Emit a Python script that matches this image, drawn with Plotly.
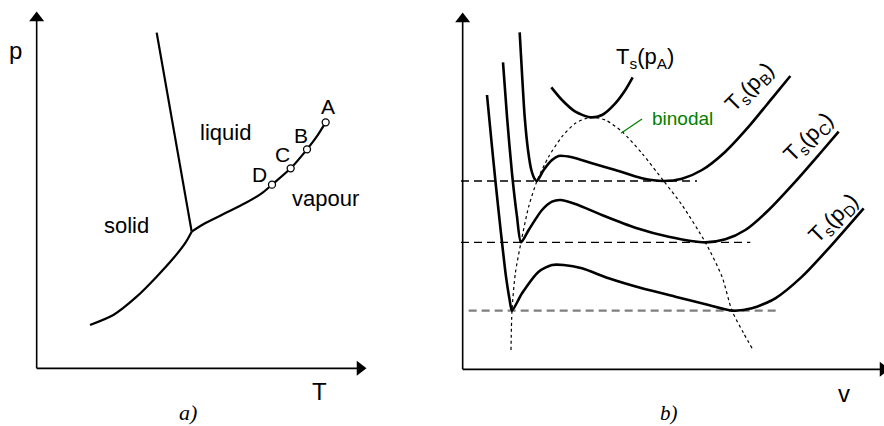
import plotly.graph_objects as go

# ---------------- panel a) : p-T phase diagram (arbitrary units) ----------------
melt_T = [360, 465]
melt_p = [1007, 410]

subl_T = [160, 230, 300, 360, 410, 447, 465]
subl_p = [130, 160, 215, 275, 330, 378, 410]

vap_T = [465, 505, 565, 625, 675, 705, 762, 811, 840, 867]
vap_p = [410, 435, 465, 495, 525, 550, 600, 657, 695, 738]

state_names = ["A", "B", "C", "D"]
state_T = [867, 811, 762, 706]
state_p = [738, 657, 600, 551]

# ---------------- panel b) : g-v isotherms (arbitrary units) ----------------
iso_A_v = [266, 298, 338, 383, 418, 458, 488, 510]
iso_A_g = [846, 808, 773, 756, 763, 798, 838, 876]

iso_B_v = [171, 178, 186, 196, 206, 216, 223, 243, 268, 288, 328, 388, 458, 538, 603,
           658, 718, 788, 858, 928, 983]
iso_B_g = [1011, 888, 758, 658, 598, 571, 565, 598, 628, 640, 636, 618, 598, 573, 565,
           572, 598, 653, 728, 813, 880]

iso_C_v = [121, 133, 148, 163, 175, 198, 238, 268, 293, 338, 418, 518, 618, 728, 788,
           848, 918, 998, 1068, 1128]
iso_C_g = [921, 758, 588, 458, 381, 418, 478, 503, 508, 496, 463, 425, 398, 381, 390,
           418, 478, 563, 643, 713]

iso_D_v = [73, 86, 100, 115, 130, 141, 148, 178, 228, 268, 303, 358, 438, 538, 638,
           738, 808, 868, 938, 1018, 1098, 1203]
iso_D_g = [823, 688, 548, 408, 278, 208, 176, 228, 293, 313, 313, 303, 273, 243, 218,
           193, 176, 183, 213, 278, 363, 483]

binodal_v = [145, 148, 158, 175, 198, 223, 258, 298, 338, 383, 428, 478, 538, 603, 658,
             728, 778, 808, 843, 870]
binodal_g = [58, 176, 288, 381, 488, 565, 638, 698, 738, 756, 748, 713, 648, 565, 493,
             381, 278, 176, 108, 60]

# equal-area (coexistence) levels and their extents
tie_g = [565, 381, 176]
tie_v0 = [-5, -5, 18]
tie_v1 = [703, 863, 943]
tie_colors = ["black", "black", "#7f7f7f"]
tie_widths = [1.4, 1.4, 2.2]

iso_labels = ["T<sub>s</sub>(p<sub>B</sub>)", "T<sub>s</sub>(p<sub>C</sub>)",
              "T<sub>s</sub>(p<sub>D</sub>)"]
iso_label_v = [862, 1040, 1115]
iso_label_g = [845, 693, 450]

FONT = "Arial, Liberation Sans, sans-serif"
SERIF = "Times New Roman, Liberation Serif, serif"

fig = go.Figure()


def line(x, y, xa, ya, width=2.2, color="black", dash="solid", spline=False):
    fig.add_trace(go.Scatter(
        x=x, y=y, xaxis=xa, yaxis=ya, mode="lines",
        line=dict(color=color, width=width, dash=dash,
                  shape="spline" if spline else "linear", smoothing=0.7),
        hoverinfo="skip", showlegend=False))


# coordinate axes with arrowheads
line([0, 0], [0, 1051], "x", "y", width=1.6)
line([0, 970], [0, 0], "x", "y", width=1.6)
line([0, 0], [0, 1051], "x2", "y2", width=1.6)
line([0, 1261], [0, 0], "x2", "y2", width=1.6)
for xa, ya, xs, ys, sym in [("x", "y", 0, 1051, "triangle-up"),
                            ("x", "y", 970, 0, "triangle-right"),
                            ("x2", "y2", 0, 1051, "triangle-up"),
                            ("x2", "y2", 1261, 0, "triangle-right")]:
    fig.add_trace(go.Scatter(x=[xs], y=[ys], xaxis=xa, yaxis=ya, mode="markers",
                             marker=dict(symbol=sym, size=13, color="black"),
                             cliponaxis=False, hoverinfo="skip", showlegend=False))

# phase boundaries
line(melt_T, melt_p, "x", "y", width=2.2)
line(subl_T, subl_p, "x", "y", width=2.2, spline=True)
line(vap_T, vap_p, "x", "y", width=2.2, spline=True)
fig.add_trace(go.Scatter(x=state_T, y=state_p, xaxis="x", yaxis="y", mode="markers",
                         marker=dict(symbol="circle", size=7, color="white",
                                     line=dict(color="black", width=1.3)),
                         hoverinfo="skip", showlegend=False))

# tie lines, binodal and isotherms
for g, v0, v1, c, w in zip(tie_g, tie_v0, tie_v1, tie_colors, tie_widths):
    line([v0, v1], [g, g], "x2", "y2", width=w, color=c, dash="8px,5px")
line(binodal_v, binodal_g, "x2", "y2", width=1.2, dash="dot", spline=True)
for vv, gg in [(iso_A_v, iso_A_g), (iso_B_v, iso_B_g), (iso_C_v, iso_C_g),
               (iso_D_v, iso_D_g)]:
    line(vv, gg, "x2", "y2", width=2.6, spline=True)
line([475, 538], [708, 751], "x2", "y2", width=1.3, color="#008000")

ann = []


def text(s, x, y, xr, yr, size=22, color="black", angle=0, family=FONT):
    ann.append(dict(text=s, x=x, y=y, xref=xr, yref=yr, showarrow=False,
                    textangle=angle, font=dict(family=family, size=size, color=color),
                    xanchor="center", yanchor="middle"))


text("p", -65, 953, "x", "y", size=24)
text("T", 847, -70, "x", "y", size=24)
text("liquid", 567, 707, "x", "y")
text("vapour", 865, 510, "x", "y")
text("solid", 268, 430, "x", "y")
for name, lx, ly in zip(state_names, [873, 793, 737, 668], [787, 700, 643, 583]):
    text(name, lx, ly, "x", "y", size=21)
text("<i>a)</i>", 455, -132, "x", "y", size=22, family=SERIF)

text("g", -65, 952, "x2", "y2", size=24)
text("v", 1143, -72, "x2", "y2", size=24)
text("<i>b)</i>", 618, -132, "x2", "y2", size=21, family=SERIF)
text("binodal", 658, 753, "x2", "y2", size=19, color="#008000")
text("T<sub>s</sub>(p<sub>A</sub>)", 548, 933, "x2", "y2")
for s, lv, lg in zip(iso_labels, iso_label_v, iso_label_g):
    text(s, lv, lg, "x2", "y2", angle=-45)

hidden = dict(visible=False, fixedrange=True)
fig.update_layout(
    width=884, height=426, margin=dict(l=0, r=0, t=0, b=0),
    paper_bgcolor="white", plot_bgcolor="white", showlegend=False,
    xaxis=dict(domain=[0, 0.5], range=[-110, 1216], **hidden),
    yaxis=dict(domain=[0, 1], range=[-173, 1105], **hidden),
    xaxis2=dict(domain=[0.5, 1], range=[-62, 1264], anchor="y2", **hidden),
    yaxis2=dict(domain=[0, 1], range=[-170, 1108], anchor="x2", **hidden),
    annotations=ann,
)

fig.write_html("out.html")
